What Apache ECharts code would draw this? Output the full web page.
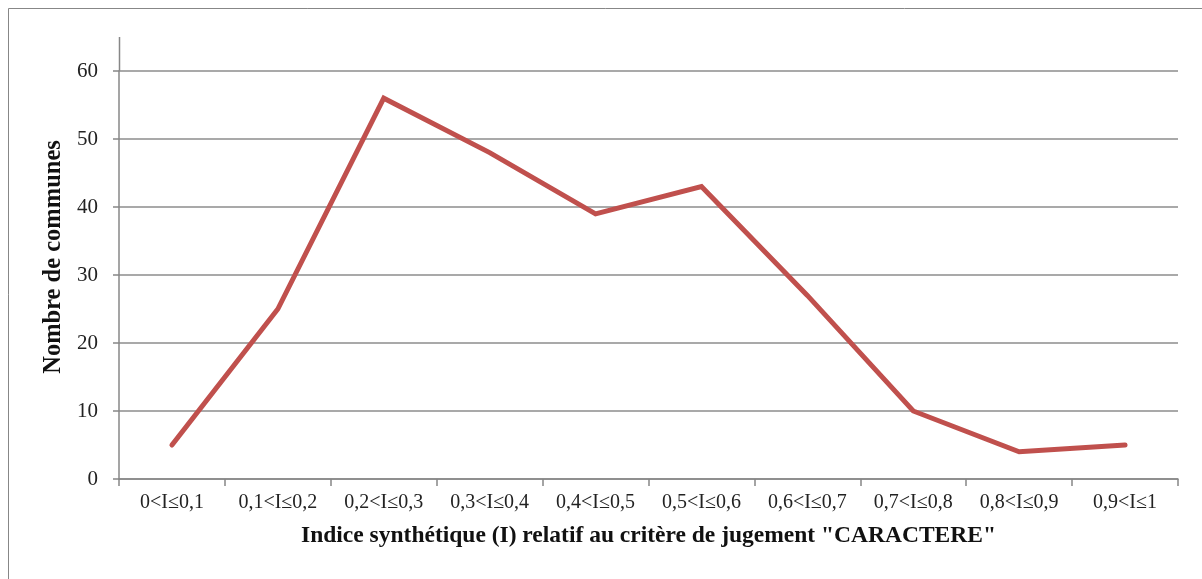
<!DOCTYPE html>
<html>
<head>
<meta charset="utf-8">
<script src="https://cdn.jsdelivr.net/npm/echarts@6/dist/echarts.min.js"></script>
<style>
  html, body { margin: 0; padding: 0; background: #fff; }
  #chart { width: 1202px; height: 579px; }
</style>
</head>
<body>
<div id="chart"></div>
<script>
var categories = ['0<I≤0,1', '0,1<I≤0,2', '0,2<I≤0,3', '0,3<I≤0,4', '0,4<I≤0,5',
                  '0,5<I≤0,6', '0,6<I≤0,7', '0,7<I≤0,8', '0,8<I≤0,9', '0,9<I≤1'];
var communes = [5, 25, 56, 48, 39, 43, 27, 10, 4, 5];
var yTicks = { min: 0, max: 60, interval: 10 };

var font = '"Liberation Serif", "DejaVu Serif", serif';
var gray = '#878787';

var myChart = echarts.init(document.getElementById('chart'));

var option = {
    backgroundColor: '#fff',
    animation: false,
    grid: { left: 119, right: 24, top: 71, bottom: 100 },
    graphic: [
        // cadre du graphique
        { type: 'rect', shape: { x: 8.5, y: 8.5, width: 1200, height: 580 },
          style: { fill: 'none', stroke: gray, lineWidth: 1 }, silent: true },
        // prolongement de l'axe vertical au-dessus de 60
        { type: 'line', shape: { x1: 119.5, y1: 37, x2: 119.5, y2: 71 },
          style: { stroke: gray, lineWidth: 1.5 }, silent: true }
    ],
    xAxis: {
        type: 'category',
        data: categories,
        boundaryGap: true,
        name: 'Indice synthétique (I) relatif au critère de jugement "CARACTERE"',
        nameLocation: 'middle',
        nameGap: 45,
        nameTextStyle: { fontFamily: font, fontSize: 23.5, fontWeight: 'bold', color: '#111', verticalAlign: 'top' },
        axisLine: { lineStyle: { color: gray, width: 1.5 } },
        axisTick: { show: true, length: 7, lineStyle: { color: gray, width: 1.5 } },
        axisLabel: { fontFamily: font, fontSize: 20, color: '#222', margin: 14, interval: 0 },
        splitLine: { show: false }
    },
    yAxis: {
        type: 'value',
        min: yTicks.min,
        max: yTicks.max,
        interval: yTicks.interval,
        name: 'Nombre de communes',
        nameLocation: 'middle',
        nameGap: 47,
        // le titre est centré sur l'axe prolongé (37..479), pas sur la grille
        nameTextStyle: { fontFamily: font, fontSize: 24.5, fontWeight: 'bold', color: '#111', padding: [0, 0, 0, 36] },
        axisLine: { show: true, lineStyle: { color: gray, width: 1.5 } },
        axisTick: { show: true, length: 6, lineStyle: { color: gray, width: 1.5 } },
        axisLabel: { fontFamily: font, fontSize: 21, color: '#222', margin: 21 },
        splitLine: { show: true, lineStyle: { color: '#8c8c8c', width: 1.5 } }
    },
    series: [{
        name: 'Nombre de communes',
        type: 'line',
        data: communes,
        symbol: 'none',
        lineStyle: { color: '#C0504D', width: 5, cap: 'round', join: 'miter' },
        itemStyle: { color: '#C0504D' }
    }]
};

myChart.setOption(option);
</script>
</body>
</html>
